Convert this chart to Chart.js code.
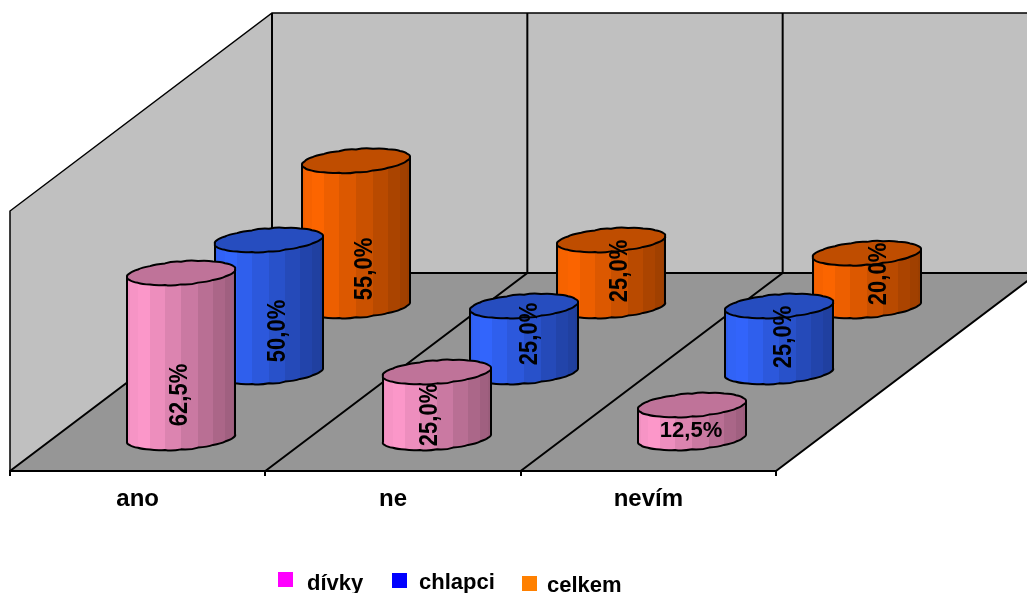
<!DOCTYPE html>
<html>
<head>
<meta charset="UTF-8">
<style>
  html, body { margin: 0; padding: 0; background: #fff; }
  canvas { display: block; }
</style>
</head>
<body>
<canvas id="myChart" width="1027" height="593"></canvas>

<script src="https://cdn.jsdelivr.net/npm/chart.js@4.4.0/dist/chart.umd.min.js"></script>

<script>
  const categories = ['ano', 'ne', 'nevím'];
  const seriesNames = ['dívky', 'chlapci', 'celkem'];
  const divky = [62.5, 25, 12.5];
  const chlapci = [50, 25, 25];
  const celkem = [55, 25, 20];

  const bodyColors = ['#ff99cc', '#3366ff', '#ff6600'];
  const legendColors = ['#ff00ff', '#0000ff', '#ff8000'];

  // floor runs back by this much on screen
  const DEPTH_X = 262;
  const DEPTH_Y = -198;
  const SEGMENTS = 20;
  const FAMILY = '"Liberation Sans", Arial, sans-serif';

  // hand placed value labels: [shift right, height above the base]
  const labelSpots = [
    [[-1, 43], [-7, 23], [-1, 7]],
    [[9, 41], [6, 38], [5, 35]],
    [[9, 37], [9, 35], [12, 32]]
  ];
  // legend entries: square x, square y, text x, text baseline
  const legendSpots = [
    [278, 572, 307, 590],
    [392, 573, 419, 589],
    [522, 576, 547, 592]
  ];

  function shade(hex, k) {
    const n = parseInt(hex.slice(1), 16);
    const r = Math.round((n >> 16 & 255) * k);
    const g = Math.round((n >> 8 & 255) * k);
    const b = Math.round((n & 255) * k);
    return `rgb(${r},${g},${b})`;
  }

  // lit just right of the left edge, falling off towards the right
  function sideLight(f) {
    if (f < 0.12) return 0.93 + 0.07 * f / 0.12;
    return 1 - 0.4 * (f - 0.12) / 0.88;
  }

  function ring(cx, cy, a, bx, by, from) {
    const pts = [];
    for (let k = 0; k <= SEGMENTS / 2; ++k) {
      const t = from + k * 2 * Math.PI / SEGMENTS;
      pts.push([
        Math.round(cx + a * Math.cos(t) + bx * Math.sin(t)),
        cy + by * Math.sin(t)
      ]);
    }
    return pts;
  }

  // small outward bulge between two rim points, gives the scalloped edge
  function scallop(ctx, p, q, cx, cy) {
    const mx = (p[0] + q[0]) / 2;
    const my = (p[1] + q[1]) / 2;
    const len = Math.hypot(mx - cx, my - cy) || 1;
    ctx.quadraticCurveTo(mx + (mx - cx) / len * 2, my + (my - cy) / len * 2, q[0], q[1]);
  }

  function drawCylinder(ctx, bar, depth, color) {
    const cx = bar.x + depth * DEPTH_X;
    const shift = depth * DEPTH_Y;
    const baseY = bar.base + shift;
    const topY = bar.y + shift;
    const a = bar.width / 2;
    const bx = DEPTH_X / 15;
    const by = DEPTH_Y / 16.5;
    const t0 = Math.atan2(bx, a);
    const half = Math.hypot(a, bx);

    const frontTop = ring(cx, topY, a, bx, by, t0 + Math.PI);
    const frontBase = ring(cx, baseY, a, bx, by, t0 + Math.PI);
    const backTop = ring(cx, topY, a, bx, by, t0);

    ctx.lineJoin = 'round';
    for (let k = 0; k < frontTop.length - 1; ++k) {
      const mid = (frontTop[k][0] + frontTop[k + 1][0]) / 2;
      ctx.fillStyle = shade(color, sideLight((mid - cx + half) / (2 * half)));
      ctx.beginPath();
      ctx.moveTo(frontTop[k][0], frontTop[k][1]);
      ctx.lineTo(frontTop[k + 1][0], frontTop[k + 1][1]);
      ctx.lineTo(frontBase[k + 1][0], frontBase[k + 1][1]);
      scallop(ctx, frontBase[k + 1], frontBase[k], cx, baseY);
      ctx.closePath();
      ctx.fill();
    }

    ctx.strokeStyle = '#000';
    ctx.lineWidth = 2;
    ctx.beginPath();
    ctx.moveTo(frontTop[0][0], frontTop[0][1]);
    ctx.lineTo(frontBase[0][0], frontBase[0][1]);
    for (let k = 1; k < frontBase.length; ++k) scallop(ctx, frontBase[k - 1], frontBase[k], cx, baseY);
    const last = frontTop[frontTop.length - 1];
    ctx.lineTo(last[0], last[1]);
    ctx.stroke();

    // top cap
    const rim = backTop.concat(frontTop.slice(1));
    ctx.fillStyle = shade(color, 0.75);
    ctx.beginPath();
    ctx.moveTo(rim[0][0], rim[0][1]);
    for (let k = 1; k < rim.length; ++k) scallop(ctx, rim[k - 1], rim[k], cx, topY);
    ctx.closePath();
    ctx.fill();
    ctx.stroke();
  }

  function drawValue(ctx, bar, depth, value, spot) {
    const x = bar.x + depth * DEPTH_X + spot[0];
    const y = bar.base + depth * DEPTH_Y - spot[1];
    ctx.save();
    ctx.translate(x, y);
    // only the flat cylinders have their label lying down
    if (value >= 15) {
      ctx.rotate(-Math.PI / 2);
      ctx.scale(0.88, 1);
      ctx.font = 'bold 25px ' + FAMILY;
    } else {
      ctx.font = 'bold 22px ' + FAMILY;
    }
    ctx.fillStyle = '#000';
    ctx.textAlign = 'center';
    ctx.textBaseline = 'middle';
    ctx.fillText(value.toFixed(1).replace('.', ',') + '%', 0, 0);
    ctx.restore();
  }

  const room = {
    id: 'room',
    beforeDraw(chart) {
      const ctx = chart.ctx;
      const { left, right, top, bottom } = chart.chartArea;
      const step = (right - left) / categories.length;

      ctx.save();
      ctx.fillStyle = '#c0c0c0';
      ctx.beginPath();
      ctx.moveTo(left, bottom);
      ctx.lineTo(left, top);
      ctx.lineTo(left + DEPTH_X, top + DEPTH_Y);
      ctx.lineTo(right + DEPTH_X, top + DEPTH_Y);
      ctx.lineTo(right + DEPTH_X, bottom + DEPTH_Y);
      ctx.lineTo(left + DEPTH_X, bottom + DEPTH_Y);
      ctx.closePath();
      ctx.fill();

      ctx.fillStyle = '#969696';
      ctx.beginPath();
      ctx.moveTo(left, bottom);
      ctx.lineTo(right, bottom);
      ctx.lineTo(right + DEPTH_X, bottom + DEPTH_Y);
      ctx.lineTo(left + DEPTH_X, bottom + DEPTH_Y);
      ctx.closePath();
      ctx.fill();

      ctx.strokeStyle = '#000';
      ctx.lineWidth = 1.5;
      ctx.beginPath();
      ctx.moveTo(left, bottom);
      ctx.lineTo(left, top);
      ctx.lineTo(left + DEPTH_X, top + DEPTH_Y);
      ctx.lineTo(right + DEPTH_X, top + DEPTH_Y);
      ctx.stroke();

      ctx.lineWidth = 2;
      ctx.beginPath();
      ctx.moveTo(left + DEPTH_X, bottom + DEPTH_Y);
      ctx.lineTo(right + DEPTH_X, bottom + DEPTH_Y);
      for (let i = 0; i <= categories.length; ++i) {
        const x = left + i * step;
        ctx.moveTo(x, bottom);
        ctx.lineTo(x + DEPTH_X, bottom + DEPTH_Y);
        ctx.lineTo(x + DEPTH_X, top + DEPTH_Y);
      }
      ctx.stroke();
      ctx.restore();
    },
    // bars become cylinders, one row further back per dataset
    beforeDatasetDraw(chart, args) {
      const ctx = chart.ctx;
      const depth = (args.index + 0.5) / seriesNames.length;
      const ds = chart.data.datasets[args.index];
      ctx.save();
      args.meta.data.forEach((bar, i) => {
        drawCylinder(ctx, bar, depth, ds.backgroundColor);
        drawValue(ctx, bar, depth, ds.data[i], labelSpots[args.index][i]);
      });
      ctx.restore();
      return false;
    },
    afterDraw(chart) {
      const ctx = chart.ctx;
      ctx.save();
      ctx.font = 'bold 22px ' + FAMILY;
      ctx.textBaseline = 'alphabetic';
      seriesNames.forEach((name, i) => {
        const s = legendSpots[i];
        ctx.fillStyle = legendColors[i];
        ctx.fillRect(s[0], s[1], 15, 15);
        ctx.fillStyle = '#000';
        ctx.fillText(name, s[2], s[3]);
      });
      ctx.restore();
    }
  };

  const config = {
    type: 'bar',
    data: {
      labels: categories,
      datasets: [
        { label: seriesNames[0], data: divky, backgroundColor: bodyColors[0] },
        { label: seriesNames[1], data: chlapci, backgroundColor: bodyColors[1] },
        { label: seriesNames[2], data: celkem, backgroundColor: bodyColors[2] }
      ]
    },
    options: {
      responsive: false,
      animation: false,
      events: [],
      grouped: false,
      categoryPercentage: 0.4,
      barPercentage: 1,
      layout: { padding: { left: 10, right: 251, top: 211, bottom: 82 } },
      plugins: {
        legend: { display: false },
        tooltip: { enabled: false }
      },
      scales: {
        x: {
          afterFit: (scale) => { scale.height = 40; },
          border: { color: '#000', width: 2 },
          grid: { drawOnChartArea: false, color: '#000', lineWidth: 2, tickLength: 5 },
          ticks: {
            color: '#000',
            padding: 9,
            maxRotation: 0,
            font: { family: FAMILY, size: 24, weight: 'bold' }
          }
        },
        y: { display: false, min: 0, max: 98.5 }
      }
    },
    plugins: [room]
  };

  new Chart(document.getElementById('myChart'), config);
</script>
</body>
</html>
